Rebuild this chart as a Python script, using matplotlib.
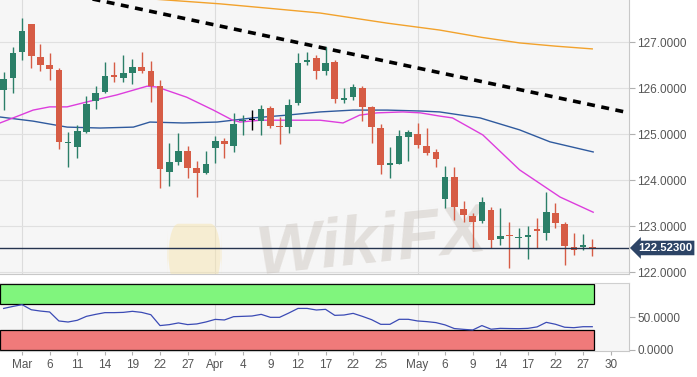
import matplotlib
matplotlib.use('Agg')
import matplotlib.pyplot as plt
import matplotlib.transforms as mtransforms
from matplotlib.patches import FancyBboxPatch

plt.rcParams['font.family'] = ['Liberation Sans', 'DejaVu Sans']

# daily candles, trading-day index 0 = Mar 1
idx = list(range(-2, 63))
opens = [125.96, 126.22, 126.78, 127.39, 126.67, 126.50, 126.39, 124.81, 124.72, 125.04,
         125.72, 125.91, 126.28, 126.22, 126.33, 126.46, 126.37, 126.04, 124.17, 124.39,
         124.63, 124.26, 124.15, 124.70, 124.85, 124.74, 125.28, 125.30, 125.28, 125.57,
         125.17, 125.15, 125.67, 126.57, 126.65, 126.37, 126.57, 125.74, 125.80, 126.00,
         125.59, 125.13, 124.33, 124.35, 124.93, 125.00, 124.74, 124.61, 123.59, 124.07,
         123.37, 123.22, 123.11, 123.35, 122.72, 122.80, 122.74, 122.76, 122.93, 122.85,
         123.28, 123.04, 122.54, 122.54, 122.54]
highs = [126.35, 126.89, 127.52, 127.39, 126.96, 126.76, 126.43, 125.04, 125.20, 125.83,
         126.04, 126.57, 126.57, 126.72, 126.63, 126.78, 126.59, 126.17, 124.80, 125.02,
         124.74, 124.41, 124.63, 124.96, 124.91, 125.46, 125.41, 125.52, 125.63, 125.61,
         125.37, 125.76, 126.76, 126.78, 126.72, 126.89, 126.61, 126.00, 126.09, 126.04,
         125.61, 125.22, 124.72, 125.09, 125.09, 125.24, 125.13, 124.67, 124.30, 124.28,
         123.54, 123.28, 123.63, 123.41, 123.39, 123.09, 122.96, 123.00, 123.17, 123.74,
         123.50, 123.09, 122.85, 122.83, 122.72]
lows = [125.52, 125.89, 126.61, 126.43, 126.37, 126.17, 124.67, 124.28, 124.48, 125.02,
        125.54, 125.89, 126.13, 126.13, 126.09, 126.33, 125.70, 123.83, 123.87, 124.33,
        124.04, 123.63, 124.13, 124.37, 124.48, 124.61, 124.98, 125.09, 124.98, 125.13,
        124.78, 125.02, 125.63, 126.50, 126.20, 126.28, 125.67, 125.67, 125.74, 125.28,
        124.80, 124.13, 124.04, 124.35, 124.41, 124.70, 124.54, 124.28, 123.39, 123.13,
        123.09, 122.52, 123.07, 122.52, 122.59, 122.09, 122.52, 122.28, 122.52, 122.70,
        122.96, 122.15, 122.37, 122.48, 122.35]
closes = [126.20, 126.76, 127.24, 126.70, 126.50, 126.41, 124.83, 124.82, 125.07, 125.65,
          125.89, 126.26, 126.24, 126.33, 126.46, 126.37, 126.04, 124.24, 124.39, 124.63,
          124.26, 124.15, 124.35, 124.85, 124.78, 125.22, 125.30, 125.30, 125.54, 125.17,
          125.15, 125.63, 126.54, 126.61, 126.37, 126.54, 125.76, 125.78, 126.02, 125.59,
          125.15, 124.33, 124.37, 124.96, 125.04, 124.76, 124.59, 124.46, 124.07, 123.41,
          123.24, 123.09, 123.52, 122.70, 122.78, 122.78, 122.76, 122.80, 122.89, 123.30,
          123.07, 122.57, 122.48, 122.59, 122.52]

# moving averages (index, price)
ma200_x = [14.5, 21.5, 27, 32.4, 39.7, 45.4, 50, 54.1, 58, 62]
ma200_y = [127.93, 127.83, 127.73, 127.63, 127.41, 127.26, 127.10, 126.98, 126.91, 126.85]
ma20_x = [-2.4, -0.2, 1.2, 3.0, 4.9, 7.1, 10.3, 13.6, 14.7, 17.9, 20.8, 22.9, 23.7, 25.9,
          28.8, 32.4, 34.9, 36.7, 38.6, 41.4, 43.3, 45.4, 46.8, 50.1, 54.1, 58.5, 62.1]
ma20_y = [125.24, 125.41, 125.52, 125.59, 125.59, 125.70, 125.85, 126.04, 126.02, 125.80,
          125.52, 125.30, 125.26, 125.30, 125.30, 125.30, 125.24, 125.41, 125.46, 125.48,
          125.46, 125.39, 125.35, 124.98, 124.22, 123.63, 123.30]
ma50_x = [-2.4, 1.2, 4.9, 8.5, 12.1, 13.9, 17.5, 21.2, 25.1, 28.8, 32.4, 36.0, 39.7, 43.3,
          45.4, 49.8, 54.1, 57.4, 62.1]
ma50_y = [125.37, 125.28, 125.15, 125.13, 125.15, 125.26, 125.24, 125.26, 125.35, 125.41,
          125.48, 125.52, 125.52, 125.50, 125.48, 125.35, 125.09, 124.83, 124.61]
trend_x = [0, 66]
trend_y = [128.26, 125.46]
last_price = 122.523

rsi = [63, 66, 68.7, 61, 59, 57.6, 44, 42.4, 45, 51, 54, 56.6, 56.6, 57, 58.6, 57, 53.5,
       37, 38.4, 41, 38.5, 39.5, 42.5, 46.4, 45.5, 50.5, 51, 51.5, 54, 49.5, 49.5, 56, 63,
       63, 60.6, 61.6, 52.5, 53, 55.5, 51, 46, 38.9, 38.9, 46.5, 46.5, 44, 43, 41.5, 38,
       32.5, 31.3, 30.3, 37, 31.5, 32.8, 32.5, 32.3, 32.8, 35, 41.9, 39, 34.5, 33.8, 35.3, 35.3]

tick_pos = [0, 3, 6, 9, 12, 15, 18, 21, 24, 27, 30, 33, 36, 39, 43, 46, 49, 52, 55, 58, 61, 64]
tick_labels = ['Mar', '6', '11', '14', '19', '22', '27', 'Apr', '4', '9', '12', '17',
               '22', '25', 'May', '6', '9', '14', '17', '22', '27', '30']
month_pos = [0, 21, 43]
price_ticks = [122, 123, 124, 125, 126, 127]

GREEN = '#2b7f68'
RED = '#d65c45'
BG = '#f6f6f6'
XLIM = (-2.4, 66.0)

fig = plt.figure(figsize=(6.97, 3.77), dpi=100)
ax = fig.add_axes([0.0, 0.2732, 0.9025, 0.7268])
ax2 = fig.add_axes([0.0, 0.069, 0.9025, 0.1803])

for a in (ax, ax2):
    a.set_facecolor(BG)
    a.set_xlim(*XLIM)
    a.yaxis.tick_right()
    for s in ('left', 'top'):
        a.spines[s].set_visible(False)
    for s in ('right', 'bottom'):
        a.spines[s].set_color('#c8c8c8')
    a.tick_params(axis='y', length=4, color='#b0b0b0', labelcolor='#555555', labelsize=8.5, pad=2)
    for m in month_pos:
        a.axvline(m, color='#dcdcdc', lw=0.8, zorder=0)
ax2.spines['top'].set_visible(True)
ax2.spines['top'].set_color('#d0d0d0')

# main panel
ax.set_ylim(121.957, 127.913)
ax.set_yticks(price_ticks)
ax.set_yticklabels(['%.4f' % p for p in price_ticks])
for p in price_ticks:
    ax.axhline(p, color='#e0e0e0', lw=0.8, zorder=0)
ax.set_xticks([])

# watermark
ax.add_patch(FancyBboxPatch((16.0, 121.9), 5.5, 0.95, boxstyle='round,pad=0.2,rounding_size=1.2',
                            fc='#f7e3a8', ec='none', alpha=0.45, zorder=1))
ax.text(38, 122.6, 'WikiFX', fontsize=50, fontweight='bold', style='italic', rotation=6,
        color='#c8c0b8', alpha=0.42, ha='center', va='center', zorder=1)

ax.plot(ma200_x, ma200_y, color='#f2a22c', lw=1.0, zorder=2)
ax.plot(ma50_x, ma50_y, color='#2f5a9e', lw=1.0, zorder=2)
ax.plot(ma20_x, ma20_y, color='#dd3ddd', lw=1.0, zorder=2)
ax.plot(trend_x, trend_y, color='black', lw=2.6, ls=(0, (2.2, 1.8)), zorder=3)

for i, o, h, l, c in zip(idx, opens, highs, lows, closes):
    col = GREEN if c > o else (RED if c < o else 'black')
    ax.vlines(i, l, h, color=col, lw=1.0, zorder=4)
    ax.bar(i, max(abs(c - o), 0.025), bottom=min(o, c), width=0.72, color=col, zorder=5)

ax.axhline(last_price, color='#25344f', lw=1.0, zorder=6)
tr = mtransforms.blended_transform_factory(ax.transAxes, ax.transData)
ax.text(1.014, last_price, '%.5f' % last_price, transform=tr, ha='left', va='center',
        color='white', fontsize=8.2, fontweight='bold', zorder=10, clip_on=False,
        bbox=dict(boxstyle='larrow,pad=0.2', fc='#2d4466', ec='none'))

# RSI panel
ax2.set_ylim(-1.5, 101.5)
ax2.axhspan(70, 100, xmin=0, xmax=(62.2 - XLIM[0]) / (XLIM[1] - XLIM[0]),
            fc='#80f57d', ec='black', lw=0.9, zorder=1)
ax2.axhspan(0, 30, xmin=0, xmax=(62.2 - XLIM[0]) / (XLIM[1] - XLIM[0]),
            fc='#f07a7a', ec='black', lw=0.9, zorder=1)
ax2.plot(idx, rsi, color='#3b4bb5', lw=0.9, zorder=3)
ax2.set_yticks([0, 50])
ax2.set_yticklabels(['0.0000', '50.0000'])
ax2.set_xticks(tick_pos)
ax2.set_xticklabels(tick_labels)
ax2.tick_params(axis='x', length=3, color='#b0b0b0', labelcolor='#555555', labelsize=8.5, pad=3)

fig.savefig('out.png', dpi=100, facecolor='white')
